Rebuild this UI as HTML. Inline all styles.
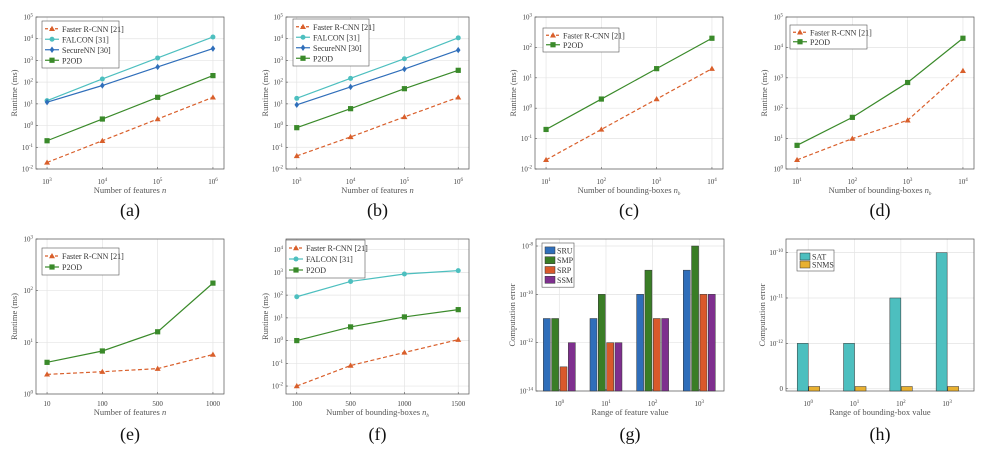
<!DOCTYPE html>
<html><head><meta charset="utf-8"><style>
html,body{margin:0;padding:0;background:#fff;}
svg{display:block;font-family:"Liberation Serif",serif;}
</style></head><body>
<svg id="fig" width="986" height="454" viewBox="0 0 986 454"></svg>
<script>
// ---- data ----
const xsFeat = [3,4,5,6];            // log10 n
const xsBox = [1,2,3,4];             // log10 nb
const catsE = ['10','100','500','1000'];
const catsF = ['100','500','1000','1500'];
const catsG = ['0','1','2','3'];
const a_faster = [0.02,0.2,2,20];
const a_falcon = [14,140,1300,12000];
const a_secure = [12,70,500,3500];
const a_p2od = [0.2,2,20,200];
const b_faster = [0.04,0.3,2.5,20];
const b_falcon = [18,150,1200,11000];
const b_secure = [9,60,400,3000];
const b_p2od = [0.8,6,50,350];
const c_faster = [0.02,0.2,2,20];
const c_p2od = [0.2,2,20,200];
const d_faster = [2,10,40,1700];
const d_p2od = [6,50,700,20000];
const e_faster = [2.4,2.7,3.1,5.8];
const e_p2od = [4.1,6.8,16,140];
const f_faster = [0.01,0.08,0.3,1.1];
const f_falcon = [85,400,850,1200];
const f_p2od = [1,4,11,23];
const g_sru = [1e-11,1e-11,1e-10,1e-9];
const g_smp = [1e-11,1e-10,1e-9,1e-8];
const g_srp = [1e-13,1e-12,1e-11,1e-10];
const g_ssm = [1e-12,1e-12,1e-11,1e-10];
const h_sat = [1e-12,1e-12,1e-11,1e-10];
const h_snms = [1.12e-13,1.12e-13,1.12e-13,1.12e-13];

const NS='http://www.w3.org/2000/svg';
const svg=document.getElementById('fig');
function mk(tag,attrs,name,parent){
  const e=document.createElementNS(NS,tag);
  for(const k in attrs) e.setAttribute(k,attrs[k]);
  
  
  (parent||svg).appendChild(e);
  return e;
}
function powText(x,y,exp,anchor,name,size){
  const t=mk('text',{x:x,y:y,'text-anchor':anchor,'font-size':size||7,fill:'#444'},name);
  if(exp===null){t.textContent='0';return t;}
  const b=document.createElementNS(NS,'tspan');b.textContent='10';t.appendChild(b);
  const s=document.createElementNS(NS,'tspan');s.setAttribute('dy','-3');s.setAttribute('font-size','5');s.textContent=String(exp);t.appendChild(s);
  return t;
}
const C={faster:'#d95f2b',falcon:'#4dbfbf',secure:'#2f6eba',p2od:'#3a8a2a'};

function axes(p){
  const g=mk('g',{},'panel-'+p.id);
  const sx=v=>p.x0+(v-p.xlo)/(p.xhi-p.xlo)*(p.x1-p.x0);
  const sy=v=>p.y1-(v-p.ylo)/(p.yhi-p.ylo)*(p.y1-p.y0);
  mk('rect',{x:p.x0,y:p.y0,width:p.x1-p.x0,height:p.y1-p.y0,fill:'#fff'},'plot-area',g);
  p.xt.forEach((v,i)=>{
    const x=sx(v);
    mk('line',{x1:x,x2:x,y1:p.y0,y2:p.y1,stroke:'#e4e4e4','stroke-width':0.7},'x-grid-line',g);
    mk('line',{x1:x,x2:x,y1:p.y1,y2:p.y1-2,stroke:'#555','stroke-width':0.6},'x-tick',g);
    if(p.xcat) {const t=mk('text',{x:x,y:p.tickY,'text-anchor':'middle','font-size':7,fill:'#444'},'x-tick-label',g);t.textContent=p.xcat[i];}
    else powText(x,p.tickY,v,'middle','x-tick-label');
  });
  const step=p.ystep||1;
  for(let k=Math.ceil(p.ylo);k<=Math.floor(p.yhi+1e-9);k+=step){
    const y=sy(k);
    mk('line',{x1:p.x0,x2:p.x1,y1:y,y2:y,stroke:'#e4e4e4','stroke-width':0.7},'y-grid-line',g);
    mk('line',{x1:p.x0,x2:p.x0+2,y1:y,y2:y,stroke:'#555','stroke-width':0.6},'y-tick',g);
    powText(p.x0-3,y+2.5,(p.zeroAt===k)?null:k,'end','y-tick-label');
  }
  mk('rect',{x:p.x0,y:p.y0,width:p.x1-p.x0,height:p.y1-p.y0,fill:'none',stroke:'#555','stroke-width':0.7},'axes-frame',g);
  const xt=mk('text',{x:(p.x0+p.x1)/2,y:p.titleY,'text-anchor':'middle','font-size':8.5,fill:'#555'},'x-axis-title',g);
  xt.textContent=p.xtitle;
  if(p.sub){const s=document.createElementNS(NS,'tspan');s.setAttribute('font-style','italic');s.textContent=p.sub;xt.appendChild(s);
    if(p.subsub){const s2=document.createElementNS(NS,'tspan');s2.setAttribute('font-size','5');s2.setAttribute('dy','2');s2.setAttribute('font-style','italic');s2.textContent=p.subsub;xt.appendChild(s2);}}
  const yc=(p.y0+p.y1)/2;
  const yt=mk('text',{x:p.ylx,y:yc,'text-anchor':'middle','font-size':8.5,fill:'#555',transform:'rotate(-90 '+p.ylx+' '+yc+')'},'y-axis-title',g);
  yt.textContent=p.ytitle;
  const cap=mk('text',{x:(p.x0+p.x1)/2,y:p.capY,'text-anchor':'middle','font-size':18,fill:'#111'},'caption-'+p.id,g);
  cap.textContent='('+p.id+')';
  return {sx,sy,g};
}
function marker(g,type,x,y,col,name){
  if(type==='tri') return mk('polygon',{points:`${x},${y-3} ${x-3},${y+2.2} ${x+3},${y+2.2}`,fill:col},name,g);
  if(type==='circ') return mk('circle',{cx:x,cy:y,r:2.5,fill:col},name,g);
  if(type==='dia') return mk('polygon',{points:`${x},${y-3.2} ${x+2.3},${y} ${x},${y+3.2} ${x-2.3},${y}`,fill:col},name,g);
  return mk('rect',{x:x-2.6,y:y-2.6,width:5.2,height:5.2,fill:col},name,g);
}
function series(ax,xs,vals,col,type,dash,name){
  const pts=vals.map((v,i)=>[ax.sx(xs[i]),ax.sy(Math.log10(v))]);
  mk('polyline',{points:pts.map(p=>p.join(',')).join(' '),fill:'none',stroke:col,'stroke-width':1.2,'stroke-dasharray':dash?'4,2.5':'none'},name+'-line',ax.g);
  pts.forEach(p=>marker(ax.g,type,p[0],p[1],col,name+'-point'));
}
function bars(ax,vals,col,off,w,name){
  vals.forEach((v,i)=>{
    const x=ax.sx(i)+off, y=ax.sy(Math.log10(v));
    mk('rect',{x:x-w/2,y:y,width:w,height:ax.sy(ax.base)-y,fill:col,stroke:'#333','stroke-width':0.5},name,ax.g);
  });
}
function legend(x,y,w,items,rowH,name){
  const g=mk('g',{},name);
  mk('rect',{x:x,y:y,width:w,height:items.length*rowH+5,fill:'#fff',stroke:'#555','stroke-width':0.6},'legend-box',g);
  items.forEach((it,i)=>{
    const cy=y+2.5+rowH*(i+0.5);
    if(it.bar){mk('rect',{x:x+3,y:cy-3.5,width:10,height:7,fill:it.col,stroke:'#333','stroke-width':0.5},'legend-swatch',g);}
    else{
      mk('line',{x1:x+3,x2:x+17,y1:cy,y2:cy,stroke:it.col,'stroke-width':1.2,'stroke-dasharray':it.dash?'3,2':'none'},'legend-line',g);
      marker(g,it.m,x+10,cy,it.col,'legend-marker');
    }
    const t=mk('text',{x:x+(it.bar?15:20),y:cy+3,'font-size':8,fill:'#333'},'legend-entry',g);
    t.textContent=it.label;
  });
}
const LF={label:'Faster R-CNN [21]',col:C.faster,m:'tri',dash:true};
const LFa={label:'FALCON [31]',col:C.falcon,m:'circ'};
const LS={label:'SecureNN [30]',col:C.secure,m:'dia'};
const LP={label:'P2OD',col:C.p2od,m:'sq'};

// (a)
let ax=axes({id:'a',x0:36,x1:224,y0:17,y1:169,xlo:2.8,xhi:6.2,ylo:-2,yhi:5,xt:xsFeat,tickY:184,titleY:193,capY:216,xtitle:'Number of features ',sub:'n',ytitle:'Runtime (ms)',ylx:17});
series(ax,xsFeat,a_faster,C.faster,'tri',true,'faster-rcnn');
series(ax,xsFeat,a_falcon,C.falcon,'circ',false,'falcon');
series(ax,xsFeat,a_secure,C.secure,'dia',false,'securenn');
series(ax,xsFeat,a_p2od,C.p2od,'sq',false,'p2od');
legend(42,21,77,[LF,LFa,LS,LP],10.5,'legend-a');
// (b)
ax=axes({id:'b',x0:286,x1:469,y0:17,y1:169,xlo:2.8,xhi:6.2,ylo:-2,yhi:5,xt:xsFeat,tickY:184,titleY:193,capY:216,xtitle:'Number of features ',sub:'n',ytitle:'Runtime (ms)',ylx:268});
series(ax,xsFeat,b_faster,C.faster,'tri',true,'faster-rcnn');
series(ax,xsFeat,b_falcon,C.falcon,'circ',false,'falcon');
series(ax,xsFeat,b_secure,C.secure,'dia',false,'securenn');
series(ax,xsFeat,b_p2od,C.p2od,'sq',false,'p2od');
legend(293,19,76,[LF,LFa,LS,LP],10.5,'legend-b');
// (c)
ax=axes({id:'c',x0:535,x1:723,y0:17,y1:169,xlo:0.8,xhi:4.2,ylo:-2,yhi:3,xt:xsBox,tickY:184,titleY:193,capY:216,xtitle:'Number of bounding-boxes ',sub:'n',subsub:'b',ytitle:'Runtime (ms)',ylx:516});
series(ax,xsBox,c_faster,C.faster,'tri',true,'faster-rcnn');
series(ax,xsBox,c_p2od,C.p2od,'sq',false,'p2od');
legend(543,28,76,[LF,LP],9.5,'legend-c');
// (d)
ax=axes({id:'d',x0:786,x1:974,y0:17,y1:169,xlo:0.8,xhi:4.2,ylo:0,yhi:5,xt:xsBox,tickY:184,titleY:193,capY:216,xtitle:'Number of bounding-boxes ',sub:'n',subsub:'b',ytitle:'Runtime (ms)',ylx:767});
series(ax,xsBox,d_faster,C.faster,'tri',true,'faster-rcnn');
series(ax,xsBox,d_p2od,C.p2od,'sq',false,'p2od');
legend(790,25,77,[LF,LP],9.5,'legend-d');
// (e)
ax=axes({id:'e',x0:36,x1:224,y0:239,y1:394,xlo:-0.2,xhi:3.2,ylo:0,yhi:3,xt:[0,1,2,3],xcat:catsE,tickY:406,titleY:415,capY:440,xtitle:'Number of features ',sub:'n',ytitle:'Runtime (ms)',ylx:17});
series(ax,[0,1,2,3],e_faster,C.faster,'tri',true,'faster-rcnn');
series(ax,[0,1,2,3],e_p2od,C.p2od,'sq',false,'p2od');
legend(42,248,77,[LF,LP],11,'legend-e');
// (f)
ax=axes({id:'f',x0:286,x1:469,y0:239,y1:394,xlo:-0.2,xhi:3.2,ylo:-2.35,yhi:4.47,xt:[0,1,2,3],xcat:catsF,tickY:406,titleY:415,capY:440,xtitle:'Number of bounding-boxes ',sub:'n',subsub:'b',ytitle:'Runtime (ms)',ylx:268});
series(ax,[0,1,2,3],f_faster,C.faster,'tri',true,'faster-rcnn');
series(ax,[0,1,2,3],f_falcon,C.falcon,'circ',false,'falcon');
series(ax,[0,1,2,3],f_p2od,C.p2od,'sq',false,'p2od');
legend(286,240,79,[LF,LFa,LP],11,'legend-f');
// (g)
ax=axes({id:'g',x0:536,x1:724,y0:239,y1:391,xlo:-0.5,xhi:3.53,ylo:-14,yhi:-7.71,ystep:2,xt:[0,1,2,3],xcat:null,tickY:406,titleY:415,capY:440,xtitle:'Range of feature value',ytitle:'Computation error',ylx:515});
ax.base=-14;
bars(ax,g_sru,'#2f6eba',-12.5,7,'bar-sru');
bars(ax,g_smp,'#3a7d26',-4.2,7,'bar-smp');
bars(ax,g_srp,'#d9592b',4.2,7,'bar-srp');
bars(ax,g_ssm,'#7e2f8e',12.5,7,'bar-ssm');
legend(542,243,32,[{label:'SRU',col:'#2f6eba',bar:true},{label:'SMP',col:'#3a7d26',bar:true},{label:'SRP',col:'#d9592b',bar:true},{label:'SSM',col:'#7e2f8e',bar:true}],9.8,'legend-g');
// (h)
ax=axes({id:'h',x0:786,x1:974,y0:239,y1:391,xlo:-0.48,xhi:3.58,ylo:-13.05,yhi:-9.7,xt:[0,1,2,3],xcat:null,zeroAt:-13,tickY:406,titleY:415,capY:440,xtitle:'Range of bounding-box value',ytitle:'Computation error',ylx:765});
ax.base=-13.05;
bars(ax,h_sat,'#4dbfbf',-5.5,11,'bar-sat');
bars(ax,h_snms,'#e8b030',6,11,'bar-snms');
legend(797,250,37,[{label:'SAT',col:'#4dbfbf',bar:true},{label:'SNMS',col:'#e8b030',bar:true}],8,'legend-h');
</script>
</body></html>
